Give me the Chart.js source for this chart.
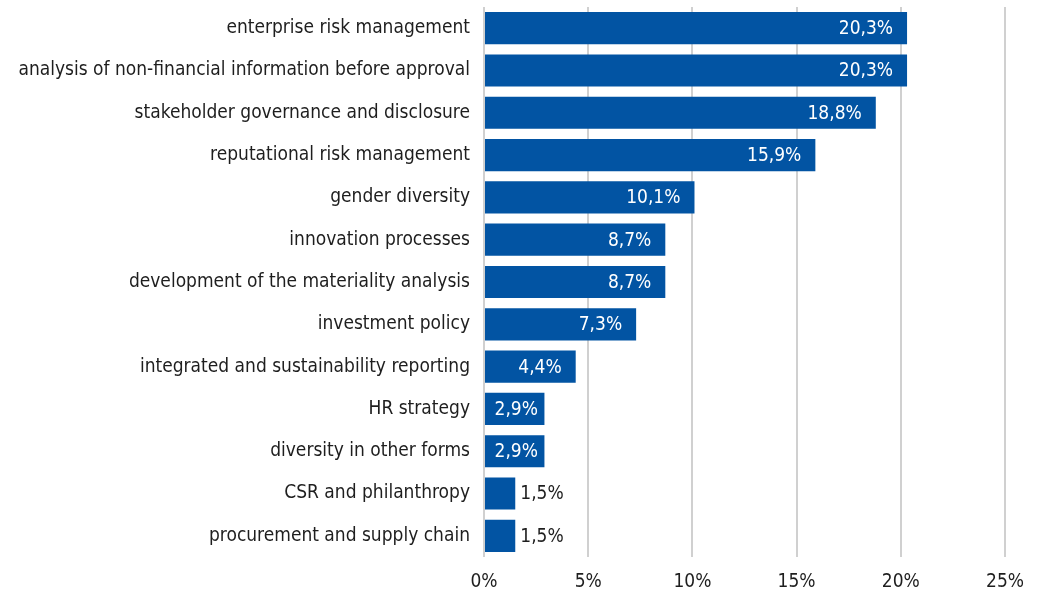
<!DOCTYPE html>
<html>
<head>
<meta charset="utf-8">
<script src="https://cdn.jsdelivr.net/npm/chart.js@4/dist/chart.umd.min.js"></script>
<style>
html,body{margin:0;padding:0;background:#fff;}
#wrap{width:1040px;height:597px;position:relative;}
</style>
</head>
<body>
<div id="wrap"><canvas id="c" width="1040" height="597"></canvas></div>
<script>
const categories = [
  "enterprise risk management",
  "analysis of non-financial information before approval",
  "stakeholder governance and disclosure",
  "reputational risk management",
  "gender diversity",
  "innovation processes",
  "development of the materiality analysis",
  "investment policy",
  "integrated and sustainability reporting",
  "HR strategy",
  "diversity in other forms",
  "CSR and philanthropy",
  "procurement and supply chain"
];
const values = [20.3, 20.3, 18.8, 15.9, 10.1, 8.7, 8.7, 7.3, 4.4, 2.9, 2.9, 1.5, 1.5];
const xTicks = [0, 5, 10, 15, 20, 25];

const FONT = "'Liberation Sans Narrow', 'DejaVu Sans Condensed', sans-serif";
const FSIZE = 19;
const BAR = '#0254A3';
const TXT = '#1e1e1e';

function fmt(v){ return v.toFixed(1).replace('.', ',') + '%'; }

const labelPlugin = {
  id: 'valueLabels',
  afterDatasetsDraw(chart){
    const ctx = chart.ctx;
    const meta = chart.getDatasetMeta(0);
    const xs = chart.scales.x;
    ctx.save();
    ctx.font = FSIZE + 'px ' + FONT;
    ctx.textBaseline = 'middle';
    meta.data.forEach((bar, i) => {
      const v = values[i];
      const txt = fmt(v);
      const w = ctx.measureText(txt).width;
      const end = xs.getPixelForValue(v);
      const start = xs.getPixelForValue(0);
      const bw = end - start;
      if (bw > w + 8) {
        const pad = Math.min(14, Math.max(4, (bw - w) / 2 - 2));
        ctx.fillStyle = '#ffffff';
        ctx.textAlign = 'right';
        ctx.fillText(txt, end - pad, bar.y + 1);
      } else {
        ctx.fillStyle = TXT;
        ctx.textAlign = 'left';
        ctx.fillText(txt, end + 5, bar.y + 1);
      }
    });
    ctx.restore();
  }
};

new Chart(document.getElementById('c'), {
  type: 'bar',
  data: {
    labels: categories,
    datasets: [{
      data: values,
      backgroundColor: BAR,
      borderWidth: 0,
      barPercentage: 0.76,
      categoryPercentage: 1.0
    }]
  },
  options: {
    indexAxis: 'y',
    responsive: false,
    animation: false,
    devicePixelRatio: 1,
    layout: { padding: { top: 7, right: 35, bottom: 0, left: 0 } },
    plugins: { legend: { display: false }, tooltip: { enabled: false } },
    scales: {
      x: {
        min: 0, max: 25,
        afterBuildTicks(scale){ scale.ticks = xTicks.map(v => ({ value: v })); },
        afterFit(scale){ scale.height = 40; scale.paddingLeft = 0; },
        ticks: {
          color: TXT,
          font: { family: FONT, size: FSIZE },
          padding: 14,
          callback: v => v + '%'
        },
        grid: { color: '#d0d0d0', lineWidth: 2, drawTicks: false },
        border: { display: false }
      },
      y: {
        afterFit(scale){ scale.width = 484; scale.paddingTop = 0; scale.paddingBottom = 0; },
        ticks: {
          color: TXT,
          font: { family: FONT, size: FSIZE },
          padding: 14,
          autoSkip: false
        },
        grid: { display: false, drawTicks: false },
        border: { display: false }
      }
    }
  },
  plugins: [labelPlugin]
});
</script>
</body>
</html>
